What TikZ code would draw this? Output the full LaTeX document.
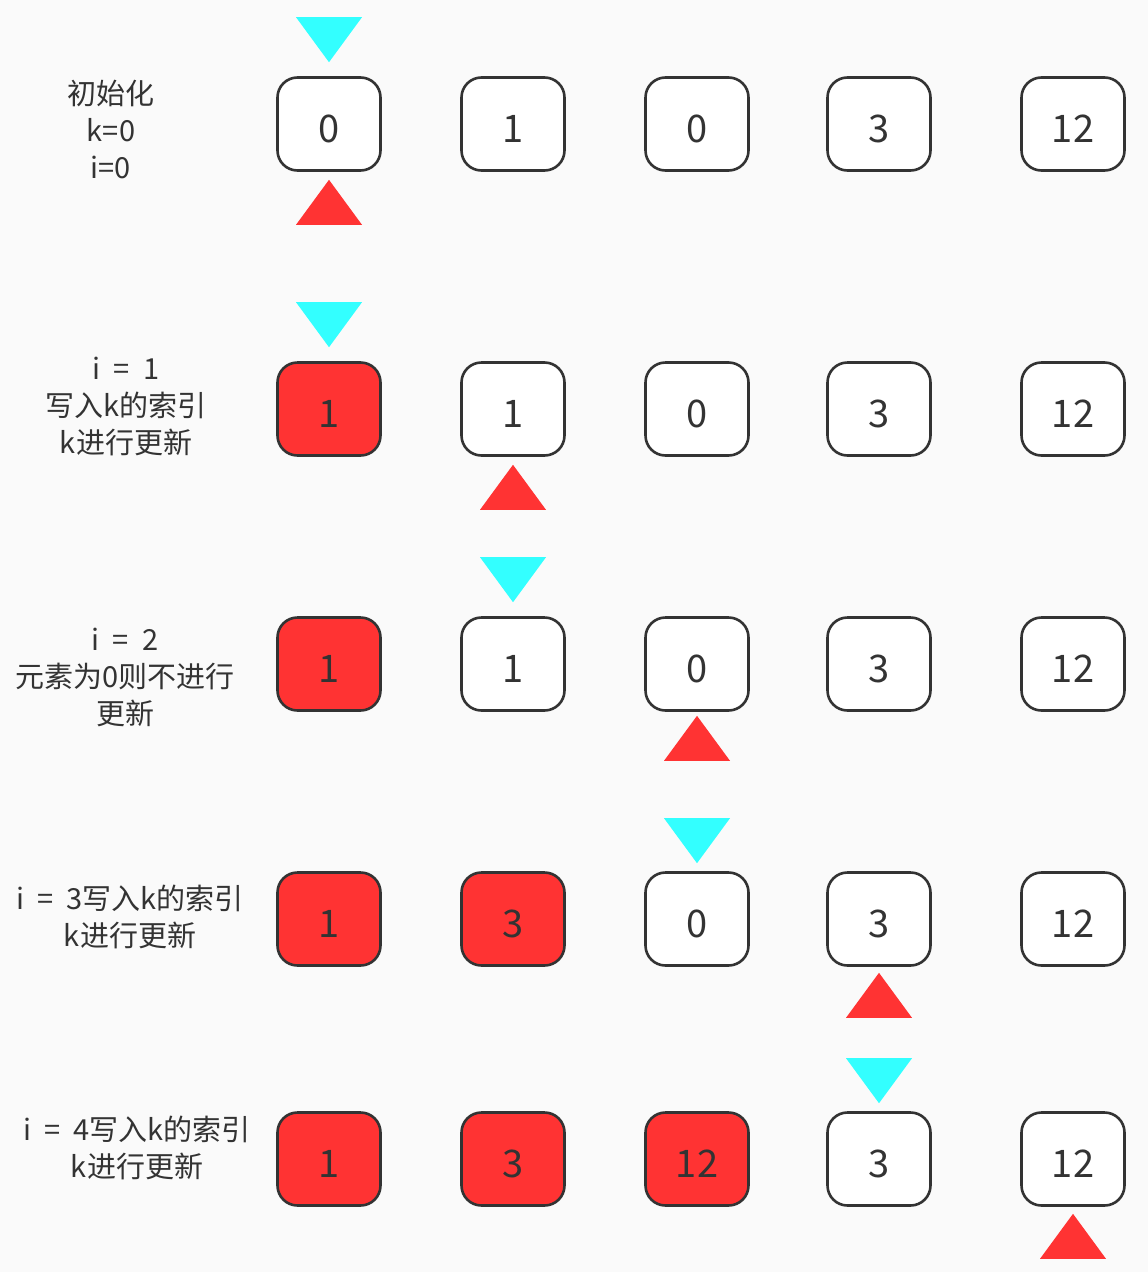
\documentclass[tikz,border=0pt]{standalone}
\usepackage{fontspec}
\setmainfont{Noto Sans CJK SC}
\definecolor{bgc}{HTML}{FAFAFA}
\definecolor{edgec}{HTML}{333333}
\definecolor{redc}{HTML}{FF3333}
\definecolor{cyanc}{HTML}{33FFFF}
\definecolor{txtc}{HTML}{333333}
% #1 = box node, #2 = gap to box
\newcommand\kmark[2]{\fill[cyanc] (#1.north) ++(0,-#2) -- ++(-33,-45) -- ++(66,0) -- cycle;}
\newcommand\imark[2]{\fill[redc] (#1.south) ++(0,#2) -- ++(-33,45) -- ++(66,0) -- cycle;}
\newcommand\wsp{\hspace{0.45em}}
\begin{document}
\begin{tikzpicture}[x=1pt,y=-1pt,
  cell/.style={draw=edgec, line width=2.6pt, rounded corners=20pt, fill=white,
    minimum width=103pt, minimum height=93pt, inner sep=0pt, text=txtc,
    text height=36pt, text depth=0pt,
    font=\fontsize{38}{40}\selectfont},
  hot/.style={cell, fill=redc},
  lbl/.style={align=center, text=txtc, inner sep=0pt, font=\fontsize{29}{37}\selectfont}]
\fill[bgc] (0,0) rectangle (1148,1272);
\useasboundingbox (0,0) rectangle (1148,1272);

% row 1
\node[lbl] (l1) at (111,129) {初始化\\k=0\\i=0};
\node[cell] (a1) at (329,124) {0};
\node[cell] (a2) at (513,124) {1};
\node[cell] (a3) at (697,124) {0};
\node[cell] (a4) at (879,124) {3};
\node[cell] (a5) at (1073,124) {12};
\kmark{a1}{14}
\imark{a1}{8}

% row 2
\node[lbl] (l2) at (126,406) {i\wsp=\wsp1\\写入k的索引\\k进行更新};
\node[hot] (b1) at (329,409) {1};
\node[cell] (b2) at (513,409) {1};
\node[cell] (b3) at (697,409) {0};
\node[cell] (b4) at (879,409) {3};
\node[cell] (b5) at (1073,409) {12};
\kmark{b1}{14}
\imark{b2}{8}

% row 3
\node[lbl] (l3) at (125,677) {i\wsp=\wsp2\\元素为0则不进行\\更新};
\node[hot] (c1) at (329,664) {1};
\node[cell] (c2) at (513,664) {1};
\node[cell] (c3) at (697,664) {0};
\node[cell] (c4) at (879,664) {3};
\node[cell] (c5) at (1073,664) {12};
\kmark{c2}{14}
\imark{c3}{4}

% row 4
\node[lbl] (l4) at (130,917) {i\wsp=\wsp3写入k的索引\\k进行更新};
\node[hot] (d1) at (329,919) {1};
\node[hot] (d2) at (513,919) {3};
\node[cell] (d3) at (697,919) {0};
\node[cell] (d4) at (879,919) {3};
\node[cell] (d5) at (1073,919) {12};
\kmark{d3}{8}
\imark{d4}{6}

% row 5
\node[lbl] (l5) at (137,1148) {i\wsp=\wsp4写入k的索引\\k进行更新};
\node[hot] (e1) at (329,1159) {1};
\node[hot] (e2) at (513,1159) {3};
\node[hot] (e3) at (697,1159) {12};
\node[cell] (e4) at (879,1159) {3};
\node[cell] (e5) at (1073,1159) {12};
\kmark{e4}{8}
\imark{e5}{7}
\end{tikzpicture}
\end{document}
